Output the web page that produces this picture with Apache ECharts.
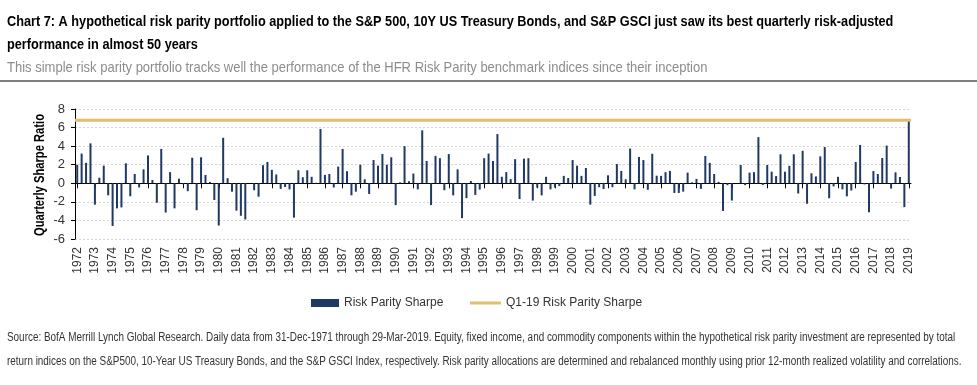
<!DOCTYPE html>
<html><head><meta charset="utf-8">
<script src="https://cdn.jsdelivr.net/npm/echarts@6/dist/echarts.min.js"></script>
<style>html,body{margin:0;padding:0;background:#fff}#c{width:977px;height:385px}</style>
</head><body><div id="c"></div>
<script>
const yearLabels = ['1972','1973','1974','1975','1976','1977','1978','1979','1980','1981','1982','1983','1984','1985','1986','1987','1988','1989','1990','1991','1992','1993','1994','1995','1996','1997','1998','1999','2000','2001','2002','2003','2004','2005','2006','2007','2008','2009','2010','2011','2012','2013','2014','2015','2016','2017','2018','2019'];
const quarterNames = ['Q1','Q2','Q3','Q4'];
const sharpe = [
  2.0, 3.2, 2.2, 4.3, -2.3, 0.6, 1.9, -1.3, -4.6, -2.7, -2.6, 2.15,
  -1.4, 1.0, -0.45, 1.5, 3.0, 0.35, -2.1, 3.7, -3.15, 1.2, -2.7, 0.5,
  -0.1, -0.85, 2.75, -2.9, 2.8, 0.9, 0.15, -1.8, -4.55, 4.9, 0.55, -0.9,
  -2.95, -3.5, -3.9, 0, -0.75, -1.45, 1.95, 2.3, 1.45, 0.95, -0.6, -0.4,
  -0.65, -3.7, 1.4, 0.65, 1.4, 0.7, 0.05, 5.85, 0.9, 1.0, -0.45, 1.8,
  3.7, 1.3, -1.3, -0.9, 2.0, 0.43, -1.15, 2.5, 1.9, 3.15, 2.0, 2.8,
  -2.35, 0.1, 4.0, 0.22, 1.05, -0.65, 5.7, 2.4, -2.35, 2.95, 2.7, -0.75,
  3.15, -1.3, 1.5, -3.75, -1.6, 0.25, -1.25, -0.68, 2.7, 3.2, 2.4, 5.3,
  0.7, 1.2, 0.45, 2.6, -1.7, 2.65, 2.7, -1.86, -0.46, -1.3, 0.7, -0.65,
  -0.46, -0.3, 0.8, 0.57, 2.5, 1.9, 0.8, 1.65, -2.3, -1.36, -0.42, -0.62,
  0.86, -0.42, 2.08, 1.33, 0.43, 3.74, -0.65, 2.84, 2.5, -0.7, 3.18, 0.82,
  0.8, 1.2, 1.33, -1.04, -1.04, -0.9, 1.15, 0.1, 0.47, -0.6, 2.94, 2.2,
  1.0, 0.15, -2.98, -0.2, -1.86, 0, 1.97, -0.2, 1.15, 1.2, 4.97, -0.18,
  1.97, 1.25, 0.78, 3.12, 1.25, 1.88, 3.12, -1.1, 3.5, -2.2, 1.08, 0.74,
  2.9, 3.9, -1.61, -0.33, 0.7, -0.65, -1.4, -0.78, 2.3, 4.13, -0.12, -3.12,
  1.32, 1.0, 2.72, 4.06, -0.56, 1.18, 0.68, -2.57, 6.8
];
const q1_19 = 6.8;
const yMin = -6, yMax = 8, yStep = 2;

const categories = [];
yearLabels.forEach(y => quarterNames.forEach(q => categories.push(y + ' ' + q)));
categories.length = sharpe.length;
const q1Line = categories.map(() => q1_19);

const SANS = "'Liberation Sans',Arial,sans-serif";

const chart = echarts.init(document.getElementById('c'), null, {renderer: 'canvas'});
chart.setOption({
  animation: false,
  backgroundColor: '#fff',
  grid: {left: 75, top: 109, width: 836, height: 130, containLabel: false},
  xAxis: [
    {type: 'category', data: categories, position: 'bottom', boundaryGap: true,
     axisLine: {show: false, onZero: false}, axisTick: {show: false},
     axisLabel: {interval: 3, rotate: 90, margin: 8, fontSize: 12, color: '#333', fontFamily: SANS,
       formatter: v => v.slice(0, 4)},
     splitLine: {show: false}},
    {type: 'category', data: categories, position: 'top', boundaryGap: true,
     axisLine: {show: true, onZero: true, lineStyle: {color: '#000', width: 1}},
     axisTick: {show: true, interval: 3, alignWithLabel: true, inside: true, length: 5, lineStyle: {color: '#000'}},
     axisLabel: {show: false}, splitLine: {show: false}},
    {type: 'category', data: categories, boundaryGap: false, show: false}
  ],
  yAxis: {
    type: 'value', min: yMin, max: yMax, interval: yStep,
    axisLine: {show: true, lineStyle: {color: '#000'}},
    axisTick: {show: true, length: 4, lineStyle: {color: '#000'}},
    axisLabel: {fontSize: 13, color: '#333', margin: 10, fontFamily: SANS},
    splitLine: {show: true, lineStyle: {color: '#d4d4d4', type: [2, 2]}}
  },
  legend: [
    {data: ['Risk Parity Sharpe'], left: 306, top: 292, icon: 'rect', itemWidth: 28, itemHeight: 8,
     selectedMode: false, textStyle: {fontFamily: SANS, fontSize: 12, color: '#333'}},
    {data: ['Q1-19 Risk Parity Sharpe'], left: 465, top: 292, icon: 'rect', itemWidth: 31, itemHeight: 3,
     selectedMode: false, textStyle: {fontFamily: SANS, fontSize: 12, color: '#333'}}
  ],
  series: [
    {name: 'Risk Parity Sharpe', type: 'bar', xAxisIndex: 0, data: sharpe, barWidth: 2,
     itemStyle: {color: '#1F3864'}},
    {name: 'Q1-19 Risk Parity Sharpe', type: 'line', xAxisIndex: 2, data: q1Line, symbol: 'none',
     lineStyle: {color: '#E3BD6E', width: 3}, itemStyle: {color: '#E3BD6E'}, z: 3}
  ],
  graphic: [
    {type: 'text', x: 7, y: 22, scaleX: 0.848, style: {text: 'Chart 7: A hypothetical risk parity portfolio applied to the S&P 500, 10Y US Treasury Bonds, and S&P GSCI just saw its best quarterly risk-adjusted', font: "bold 15px " + SANS, fill: '#000', textVerticalAlign: 'middle'}},
    {type: 'text', x: 7, y: 45, scaleX: 0.848, style: {text: 'performance in almost 50 years', font: "bold 15px " + SANS, fill: '#000', textVerticalAlign: 'middle'}},
    {type: 'text', x: 7, y: 68, scaleX: 0.867, style: {text: 'This simple risk parity portfolio tracks well the performance of the HFR Risk Parity benchmark indices since their inception', font: "15px " + SANS, fill: '#8c8c8c', textVerticalAlign: 'middle'}},
    {type: 'rect', x: 0, y: 80, shape: {width: 977, height: 2}, style: {fill: '#7f7f7f'}},
    {type: 'text', x: 40, y: 175, rotation: Math.PI / 2, scaleX: 0.8, style: {text: 'Quarterly Sharpe Ratio', font: "bold 14px " + SANS, fill: '#000', textAlign: 'center', textVerticalAlign: 'middle'}},
    {type: 'text', x: 7, y: 338, scaleX: 0.826, style: {text: 'Source: BofA Merrill Lynch Global Research. Daily data from 31-Dec-1971 through 29-Mar-2019. Equity, fixed income, and commodity components within the hypothetical risk parity investment are represented by total', font: "12px " + SANS, fill: '#333', textVerticalAlign: 'middle'}},
    {type: 'text', x: 7, y: 362, scaleX: 0.826, style: {text: 'return indices on the S&P500, 10-Year US Treasury Bonds, and the S&P GSCI Index, respectively. Risk parity allocations are determined and rebalanced monthly using prior 12-month realized volatility and correlations.', font: "12px " + SANS, fill: '#333', textVerticalAlign: 'middle'}}
  ]
});
</script>
</body></html>
